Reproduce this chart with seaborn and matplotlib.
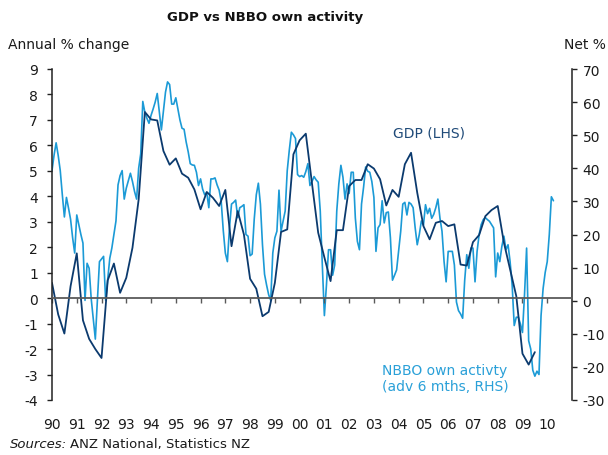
import numpy as np
import pandas as pd
import seaborn as sns
import matplotlib.pyplot as plt

# GDP, annual % change, quarterly from 1990 Q1
gdp = [0.6, -0.64, -1.39, 0.47, 1.76, -0.87, -1.6, -2.0, -2.35, 0.7,
       1.36, 0.21, 0.8, 1.98, 3.88, 7.31, 7.02, 6.98, 5.78, 5.24,
       5.49, 4.89, 4.73, 4.27, 3.49, 4.17, 3.94, 3.62, 4.25, 2.04,
       3.42, 2.5, 0.76, 0.37, -0.71, -0.54, 0.6, 2.6, 2.7, 5.65,
       6.2, 6.46, 4.5, 2.57, 1.6, 0.67, 2.67, 2.67, 4.4, 4.64,
       4.64, 5.26, 5.09, 4.67, 3.64, 4.25, 3.98, 5.26, 5.71, 4.14,
       2.83, 2.31, 2.96, 3.03, 2.83, 2.9, 1.32, 1.28, 2.2, 2.48,
       3.22, 3.46, 3.62, 2.18, 1.13, 0.08, -2.18, -2.61, -2.12]

# NBBO own activity, net %, monthly (advanced 6 months) from Jan 1990
nbbo = [39.3, 44, 47.7, 43.9, 39.3, 32, 25.3, 31.2, 28, 24.6,
        19, 14.4, 25.9, 23, 20, 17.4, 0.1, 11.3, 9.8, 0.6,
        -5.5, -11.6, 0, 11.8, 12.6, 13.4, 0.1, 6.5, 12.8, 15.9,
        20, 24.1, 35, 37.8, 39.3, 30.7, 34, 36.3, 38.5, 36,
        33, 30.7, 40, 44.4, 60.2, 56.9, 55.1, 53.6, 56, 57.9,
        60, 62.6, 57, 51.6, 57.2, 63, 66.1, 65.3, 59.4, 59.4,
        61.3, 57.9, 54.6, 52.1, 51.8, 48.0, 45.0, 41.4, 41.0, 40.9,
        38.8, 34.8, 36.8, 33.7, 32.0, 32.7, 28.1, 36.8, 36.8, 37.1,
        35, 33.4, 30.0, 21.2, 14.4, 11.8, 22.0, 29.2, 29.7, 30.4,
        25.1, 28.1, 28.5, 29.0, 20.0, 19.5, 13.6, 14.1, 24.6, 32,
        35.5, 29.2, 16.9, 8, 4.7, 1.8, 0.1, 14.4, 19.0, 21.0,
        33.4, 21.0, 24, 27.1, 39.3, 45.5, 50.9, 50.1, 49.0, 38.1,
        37.5, 37.8, 37.3, 39, 41.4, 34.8, 36, 37.5, 36.5, 35.8,
        27.1, 10.8, -4.5, 4.7, 15.4, 15.4, 7.7, 10.8, 27.1, 35.3,
        40.9, 37.3, 30.7, 35.3, 32.4, 38.8, 38.8, 25, 17.9, 15.4,
        29.2, 34.3, 40.4, 39.1, 38.8, 36, 31.2, 14.9, 22.0, 23.0,
        30.2, 23.5, 26.6, 26.8, 19.0, 6.2, 7.7, 9.3, 15, 21.0,
        29.2, 29.7, 25.9, 29.7, 29.2, 28.1, 22, 16.9, 20.0, 24.1,
        22.8, 29.0, 26.3, 27.9, 24.9, 26.1, 28.1, 30.7, 25, 21.0,
        11.8, 5.7, 14.9, 14.9, 14.9, 10.8, -0.4, -3, -4.0, -5.3,
        6.2, 13.9, 9.8, 15.9, 15.9, 5.7, 14.9, 20.0, 23.0, 24.5,
        25.1, 24.5, 24.0, 23.0, 22.0, 7.2, 14.4, 11.8, 16.4, 19.5,
        15.4, 16.9, 11.8, 4.7, -7.5, -5.0, -5.0, -7, -9.6, 2,
        15.9, -12.1, -14.6, -21, -22.8, -21.3, -22.3, -4.5, 3.7, 8.5,
        11.8, 20, 31.4, 30.2]

years = list(range(1990, 2011))
year_labels = ['90', '91', '92', '93', '94', '95', '96', '97', '98', '99', '00',
               '01', '02', '03', '04', '05', '06', '07', '08', '09', '10']

gdp_df = pd.DataFrame({'year': 1990 + np.arange(len(gdp)) * 0.25, 'gdp': gdp})
nbbo_df = pd.DataFrame({'year': 1990 + np.arange(len(nbbo)) / 12, 'nbbo': nbbo})

dark = '#0b3a6e'
light = '#1b9ad6'
axis_col = '#222222'

sns.set_style('ticks')
plt.rcParams['font.family'] = ['DejaVu Sans']
plt.rcParams['font.size'] = 10
plt.rcParams['axes.unicode_minus'] = False

fig = plt.figure(figsize=(6.08, 4.56), dpi=100)
ax = fig.add_axes([52 / 608, 55 / 456, 520 / 608, 331 / 456])
ax2 = ax.twinx()

sns.lineplot(data=nbbo_df, x='year', y='nbbo', ax=ax2, color=light, lw=1.2)
sns.lineplot(data=gdp_df, x='year', y='gdp', ax=ax, color=dark, lw=1.3)
ax.set_zorder(ax2.get_zorder() + 1)
ax.patch.set_visible(False)

ax.set_xlim(1990, 2011)
ax.set_ylim(-4, 9)
ax2.set_ylim(-30, 70)
ax.set_yticks(range(-4, 10))
ax2.set_yticks(range(-30, 71, 10))
ax.set_xticks(years, year_labels)
ax.set_xlabel('')
ax.set_ylabel('')
ax2.set_ylabel('')

for s in ['top', 'right']:
    ax.spines[s].set_visible(False)
for s in ['top', 'left', 'bottom']:
    ax2.spines[s].set_visible(False)
ax.spines['bottom'].set_position(('data', 0))
ax.spines['bottom'].set_color('#5a5a5a')
ax.spines['bottom'].set_linewidth(1.3)
ax.spines['left'].set_color(axis_col)
ax.spines['left'].set_linewidth(1.1)
ax2.spines['right'].set_color(axis_col)
ax2.spines['right'].set_linewidth(1.1)

ax.tick_params(axis='x', length=3.6, width=1, color='#5a5a5a',
               labelcolor='#1a1a1a', labelsize=10, pad=82)
ax.tick_params(axis='y', length=3.6, width=1, color=axis_col,
               labelcolor='#1a1a1a', labelsize=10, pad=6.5)
ax2.tick_params(axis='y', length=3.6, width=1, color=axis_col,
                labelcolor='#1a1a1a', labelsize=10, pad=4)

ax.text(0.656, 0.807, 'GDP (LHS)', transform=ax.transAxes, color='#1f4a78',
        fontsize=10, va='center', ha='left')
ax.text(0.634, 0.112, 'NBBO own activty\n(adv 6 mths, RHS)', transform=ax.transAxes,
        color='#2aa0d8', fontsize=10, va='top', ha='left', linespacing=1.15)

fig.text(265 / 608, 1 - 18 / 456, 'GDP vs NBBO own activity', ha='center', va='center',
         fontsize=9.5, fontweight='bold', color='#111111')
fig.text(8 / 608, 1 - 45 / 456, 'Annual % change', ha='left', va='center', fontsize=10,
         color='#1a1a1a')
fig.text(606 / 608, 1 - 45 / 456, 'Net %', ha='right', va='center', fontsize=10,
         color='#1a1a1a')
fig.text(10 / 608, 1 - 445 / 456, 'Sources:', ha='left', va='center', fontsize=9.5,
         style='italic', color='#1a1a1a')
fig.text(70 / 608, 1 - 445 / 456, 'ANZ National, Statistics NZ', ha='left', va='center',
         fontsize=9.5, color='#1a1a1a')

plt.savefig('out.png', dpi=100)
